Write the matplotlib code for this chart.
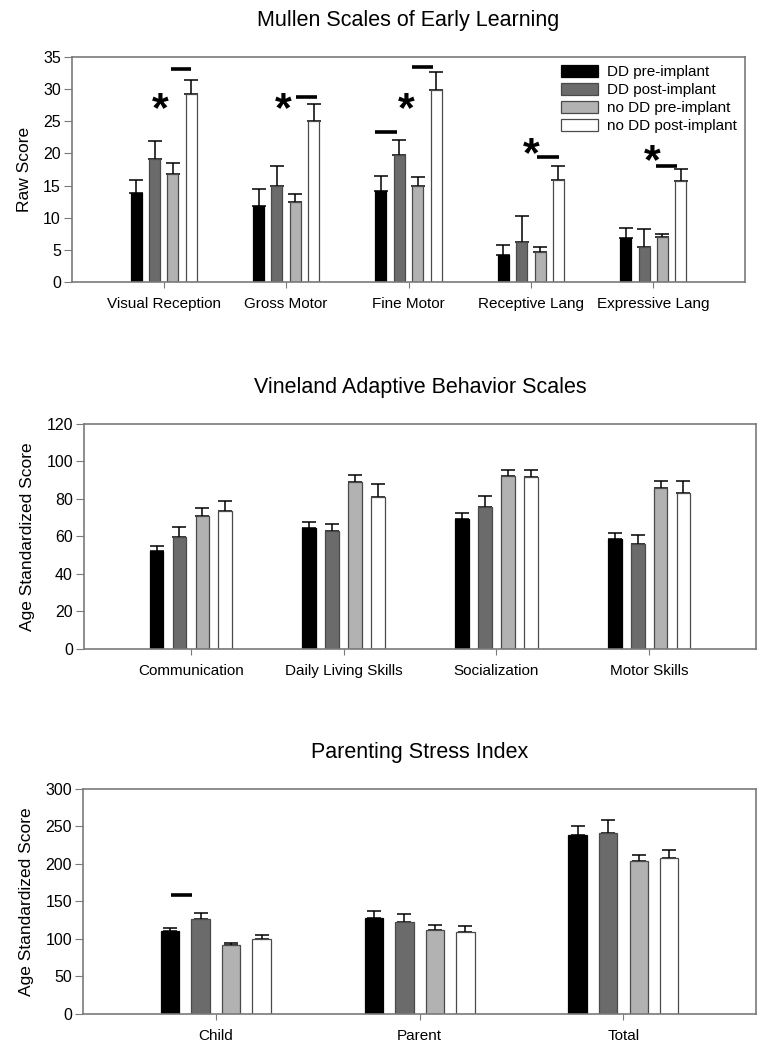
import matplotlib
matplotlib.use("Agg")
import matplotlib.pyplot as plt
import numpy as np

plt.rcParams['font.family'] = ['Liberation Sans', 'DejaVu Sans']

# --- series names and colours ---
groups = ['DD pre-implant', 'DD post-implant', 'no DD pre-implant', 'no DD post-implant']
colors = ['#000000', '#6b6b6b', '#b2b2b2', '#ffffff']

# --- Mullen Scales of Early Learning (raw score) ---
mullen_cats = ['Visual Reception', 'Gross Motor', 'Fine Motor', 'Receptive Lang', 'Expressive Lang']
mullen_dd_pre = [13.8, 11.8, 14.2, 4.2, 6.9]
mullen_dd_post = [19.1, 15.0, 19.8, 6.3, 5.5]
mullen_nodd_pre = [16.8, 12.5, 15.0, 4.6, 6.95]
mullen_nodd_post = [29.2, 25.1, 29.9, 15.9, 15.7]
mullen_dd_pre_err = [2.0, 2.6, 2.3, 1.6, 1.45]
mullen_dd_post_err = [2.8, 3.1, 2.3, 3.9, 2.7]
mullen_nodd_pre_err = [1.7, 1.2, 1.4, 0.9, 0.55]
mullen_nodd_post_err = [2.3, 2.6, 2.7, 2.1, 1.9]
mullen_stars = [(-0.03, 27.4), (0.98, 27.4), (1.98, 27.4), (3.0, 20.4), (3.99, 19.4)]
mullen_dashes = [(0.055, 0.226, 33.2), (1.077, 1.249, 28.8), (1.73, 1.91, 23.3),
                 (2.03, 2.2, 33.5), (3.054, 3.226, 19.4), (4.026, 4.198, 18.1)]

# --- Vineland Adaptive Behavior Scales ---
vine_cats = ['Communication', 'Daily Living Skills', 'Socialization', 'Motor Skills']
vine_dd_pre = [52.3, 64.5, 69.3, 58.8]
vine_dd_post = [59.7, 62.7, 75.9, 55.9]
vine_nodd_pre = [71.1, 89.0, 92.1, 85.7]
vine_nodd_post = [73.6, 81.0, 91.6, 83.3]
vine_dd_pre_err = [2.6, 3.2, 3.2, 3.2]
vine_dd_post_err = [5.5, 3.7, 5.7, 4.8]
vine_nodd_pre_err = [4.2, 3.8, 3.5, 3.7]
vine_nodd_post_err = [5.1, 7.1, 4.0, 6.1]

# --- Parenting Stress Index ---
psi_cats = ['Child', 'Parent', 'Total']
psi_dd_pre = [110.7, 128.0, 238.2]
psi_dd_post = [126.2, 122.2, 241.8]
psi_nodd_pre = [91.6, 112.0, 203.6]
psi_nodd_post = [100.4, 109.8, 208.4]
psi_dd_pre_err = [3.5, 9.8, 12.5]
psi_dd_post_err = [8.0, 10.7, 16.9]
psi_nodd_pre_err = [3.4, 6.2, 8.8]
psi_nodd_post_err = [5.4, 7.1, 9.8]
psi_dashes = [(-0.221, -0.116, 158.7)]

offsets = [-0.225, -0.075, 0.075, 0.225]
bar_w = 0.09
spine_col = '#7a7a7a'


def draw_panel(ax, cats, series, errs, title, ylabel, ymax, ystep, xpad):
    x = np.arange(len(cats))
    for i, (vals, err) in enumerate(zip(series, errs)):
        edge = '#000000' if i == 0 else '#4a4a4a'
        ax.bar(x + offsets[i], vals, width=bar_w, color=colors[i],
               edgecolor=edge, linewidth=0.9, label=groups[i], zorder=2)
        # upper error bar only
        ax.errorbar(x + offsets[i], vals, yerr=[np.zeros(len(vals)), err],
                    fmt='none', ecolor='black', elinewidth=1.1, capsize=4.8,
                    capthick=1.1, zorder=1)
    ax.set_xlim(-xpad, len(cats) - 1 + xpad)
    ax.set_ylim(0, ymax)
    ax.set_yticks(np.arange(0, ymax + 1, ystep))
    ax.set_xticks(x)
    ax.set_xticklabels(cats, fontsize=11)
    ax.tick_params(axis='y', labelsize=11.5, direction='out', length=6,
                   color=spine_col, pad=2)
    ax.tick_params(axis='x', direction='out', length=4, color=spine_col, pad=7)
    for s in ax.spines.values():
        s.set_color(spine_col)
        s.set_linewidth(1.2)
    ax.set_ylabel(ylabel, fontsize=12.5, labelpad=8)
    ax.set_title(title, fontsize=15.5, pad=22)


fig = plt.figure(figsize=(7.66, 10.5), dpi=100)
ax1 = fig.add_axes([0.094, 0.7314, 0.8786, 0.2143])
ax2 = fig.add_axes([0.1097, 0.3822, 0.8773, 0.2140])
ax3 = fig.add_axes([0.1088, 0.0343, 0.8780, 0.2143])

draw_panel(ax1, mullen_cats,
           [mullen_dd_pre, mullen_dd_post, mullen_nodd_pre, mullen_nodd_post],
           [mullen_dd_pre_err, mullen_dd_post_err, mullen_nodd_pre_err, mullen_nodd_post_err],
           'Mullen Scales of Early Learning', 'Raw Score', 35, 5, 0.75)
draw_panel(ax2, vine_cats,
           [vine_dd_pre, vine_dd_post, vine_nodd_pre, vine_nodd_post],
           [vine_dd_pre_err, vine_dd_post_err, vine_nodd_pre_err, vine_nodd_post_err],
           'Vineland Adaptive Behavior Scales', 'Age Standardized Score', 120, 20, 0.7)
draw_panel(ax3, psi_cats,
           [psi_dd_pre, psi_dd_post, psi_nodd_pre, psi_nodd_post],
           [psi_dd_pre_err, psi_dd_post_err, psi_nodd_pre_err, psi_nodd_post_err],
           'Parenting Stress Index', 'Age Standardized Score', 300, 50, 0.65)

# significance marks
for sx, sy in mullen_stars:
    ax1.text(sx, sy, '*', fontsize=31, fontweight='bold', ha='center',
             va='center_baseline', zorder=3)
for x0, x1, y in mullen_dashes:
    ax1.plot([x0, x1], [y, y], color='black', linewidth=2.6, solid_capstyle='butt')
for x0, x1, y in psi_dashes:
    ax3.plot([x0, x1], [y, y], color='black', linewidth=2.6, solid_capstyle='butt')

ax1.legend(loc='upper right', bbox_to_anchor=(1.0, 1.0), frameon=False,
           fontsize=11, handlelength=2.4, handleheight=0.75,
           labelspacing=0.26, handletextpad=0.6, borderaxespad=0.15)

fig.savefig('out.png', dpi=100)
